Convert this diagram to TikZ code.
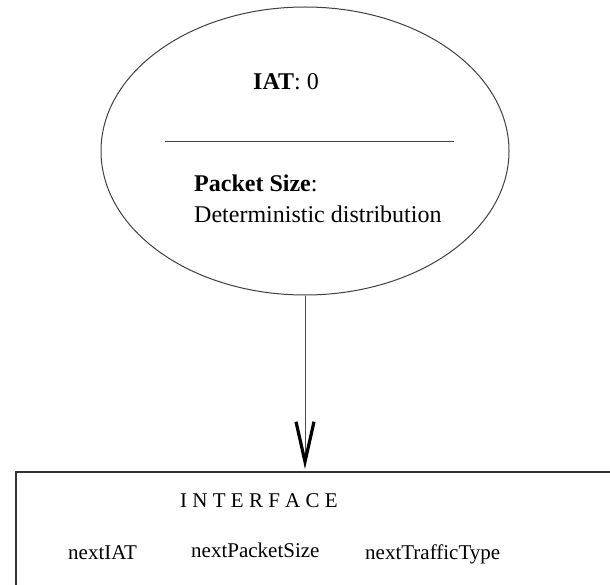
\documentclass[tikz,border=0pt]{standalone}
\usepackage{fontspec}
\setmainfont{Liberation Serif}
\usetikzlibrary{shapes.geometric,arrows.meta}
\tikzset{
  outline/.style={draw=black!75, line width=1pt},
  txtbig/.style={anchor=base west, inner sep=0pt, font=\fontsize{24}{28}\selectfont},
  txtsmall/.style={anchor=base west, inner sep=0pt, font=\fontsize{21}{25}\selectfont},
  vtip/.style={-{Straight Barb[length=40pt, width=18pt, line width=3.2pt, color=black]}}
}
\begin{document}
\begin{tikzpicture}[x=1pt, y=-1pt]
  \clip (0,0) rectangle (610,585);
  \fill[white] (0,0) rectangle (610,585);

  % traffic source: ellipse with two compartments
  \node[ellipse, outline, minimum width=408pt, minimum height=288pt, inner sep=0pt] (src) at (305,151) {};
  \coordinate (sepL) at (165,142);
  \coordinate (sepR) at (454,142);
  \draw[outline] (sepL) -- (sepR);
  \node[txtbig] (iat) at (253,90) {\textbf{IAT}: 0};
  \node[txtbig] (psize) at (194,192) {\textbf{Packet Size}:};
  \node[txtbig] (dist) at (194,223) {Deterministic distribution};

  % interface box, running off the right and bottom edges
  \node[draw=black!80, line width=1.5pt, anchor=north west, minimum width=640pt, minimum height=160pt, inner sep=0pt] (iface) at (15,471) {};
  \node[txtsmall] (ititle) at (180,507) {I N T E R F A C E};
  \node[txtsmall] (f1) at (68,559) {nextIAT};
  \node[txtsmall] (f2) at (191,557) {nextPacketSize};
  \node[txtsmall] (f3) at (365,559) {nextTrafficType};

  % connector from the source to the interface
  \draw[draw=black!70, line width=1pt, vtip] (src.south) -- ([yshift=2pt]src.south |- iface.north);
\end{tikzpicture}
\end{document}
